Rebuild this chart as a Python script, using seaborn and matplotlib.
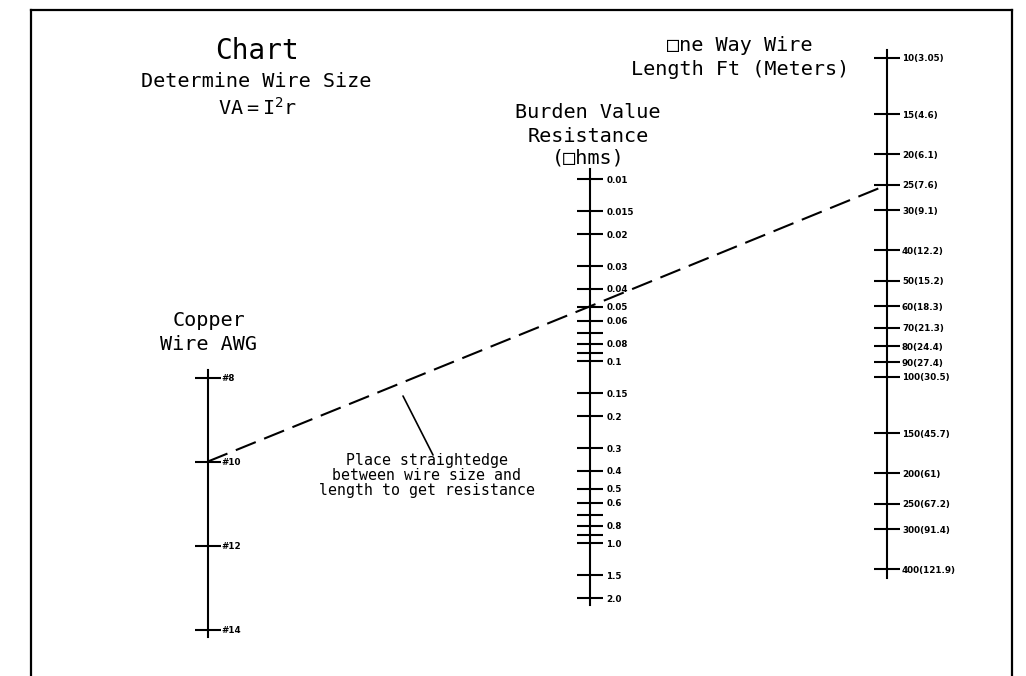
import matplotlib
matplotlib.use("Agg")
import matplotlib.pyplot as plt
import numpy as np
import pandas as pd
import seaborn as sns
from matplotlib.ticker import NullLocator

# ---- scale values -------------------------------------------------------
awg_sizes = [8, 10, 12, 14]
awg_labels = ["#8", "#10", "#12", "#14"]

resistance_ohms = [0.01, 0.015, 0.02, 0.03, 0.04, 0.05, 0.06, 0.07, 0.08, 0.09,
                   0.1, 0.15, 0.2, 0.3, 0.4, 0.5, 0.6, 0.7, 0.8, 0.9,
                   1.0, 1.5, 2.0]
resistance_labels = ["0.01", "0.015", "0.02", "0.03", "0.04", "0.05", "0.06", "", "0.08", "",
                     "0.1", "0.15", "0.2", "0.3", "0.4", "0.5", "0.6", "", "0.8", "",
                     "1.0", "1.5", "2.0"]

length_ft = [10, 15, 20, 25, 30, 40, 50, 60, 70, 80, 90, 100, 150, 200, 250, 300, 400]
length_m = ["3.05", "4.6", "6.1", "7.6", "9.1", "12.2", "15.2", "18.3", "21.3", "24.4",
            "27.4", "30.5", "45.7", "61", "67.2", "91.4", "121.9"]

# worked example: #10 wire, 25 ft one way -> 0.05 ohm burden
example_awg = 10
example_resistance = 0.05
example_length_ft = 25

# ---- style --------------------------------------------------------------
sns.set_theme(style="white")
plt.rcParams["font.family"] = ["DejaVu Sans"]
plt.rcParams["lines.scale_dashes"] = False

W, H = 1026, 676
fig = plt.figure(figsize=(W / 100, H / 100), dpi=100)
fig.patch.set_facecolor("white")

INK = "black"
LW = 1.5
MONO = ["DejaVu Sans Mono", "DejaVu Sans"]


def px_rect(left, top, width, height):
    return [left / W, 1 - (top + height) / H, width / W, height / H]


# drawing sheet: border on three sides, data units are pixels
sheet = fig.add_axes([31 / W, 0, (1012 - 31) / W, (H - 10) / H])
sheet.set_xlim(31, 1012)
sheet.set_ylim(H, 10)
sheet.set_xticks([])
sheet.set_yticks([])
for side in ("left", "top", "right"):
    sheet.spines[side].set_color(INK)
    sheet.spines[side].set_linewidth(1.6)
sheet.spines["bottom"].set_visible(False)


def make_scale(x_px, top_px, bottom_px, yscale, lim, ticks, labels, pad):
    ax = fig.add_axes(px_rect(x_px - 20, top_px, 20, bottom_px - top_px))
    ax.set_yscale(yscale)
    ax.set_ylim(*lim)
    ax.set_xlim(0, 1)
    ax.patch.set_visible(False)
    for side in ("left", "top", "bottom"):
        ax.spines[side].set_visible(False)
    ax.spines["right"].set_color(INK)
    ax.spines["right"].set_linewidth(LW)
    ax.set_xticks([])
    ax.yaxis.tick_right()
    ax.set_yticks(ticks, labels)
    ax.yaxis.set_minor_locator(NullLocator())
    ax.tick_params(axis="y", which="major", direction="inout", length=18.5,
                   width=LW, color=INK, pad=pad, labelsize=6.3, labelcolor=INK)
    for lab in ax.get_yticklabels():
        lab.set_fontweight("bold")
    return ax


ax_awg = make_scale(207.5, 370, 637, "linear", (14.177, 7.816),
                    awg_sizes, awg_labels, 1.0)
ax_res = make_scale(589.5, 169, 605, "log", (2.183, 0.008776),
                    resistance_ohms, resistance_labels, 3.0)
ax_len = make_scale(887, 50, 578, "log", (426.7, 9.439),
                    length_ft, [f"{f}({m})" for f, m in zip(length_ft, length_m)], 1.5)

# ---- straightedge through the worked example ---------------------------
to_sheet = sheet.transData.inverted()
pts = [to_sheet.transform(ax.transData.transform((1, v)))
       for ax, v in ((ax_awg, example_awg), (ax_res, example_resistance),
                     (ax_len, example_length_ft))]
edge = pd.DataFrame(pts, columns=["x", "y"])
sns.lineplot(data=edge, x="x", y="y", ax=sheet, color=INK, linewidth=1.5,
             linestyle=(0, (15.5, 6.5)), sort=False, estimator=None)
sheet.set_xlabel("")
sheet.set_ylabel("")

# leader from the note to the straightedge
sheet.plot([403, 433], [396, 455], color=INK, linewidth=1.2)

# ---- titles -------------------------------------------------------------
title_kw = dict(ha="center", va="baseline", color=INK, family=MONO)
TS = 14.5
sheet.text(257, 59, "Chart", fontsize=20, **title_kw)
sheet.text(256, 87, "Determine Wire Size", fontsize=TS, **title_kw)
sheet.text(257, 115, r"$\mathregular{VA{=}I^{2}r}$", fontsize=TS, **title_kw)

sheet.text(740, 51, "\u25a1ne Way Wire", fontsize=TS, **title_kw)
sheet.text(740, 75, "Length Ft (Meters)", fontsize=TS, **title_kw)

sheet.text(588, 118, "Burden Value", fontsize=TS, **title_kw)
sheet.text(588, 142, "Resistance", fontsize=TS, **title_kw)
sheet.text(588, 164, "(\u25a1hms)", fontsize=TS, **title_kw)

sheet.text(209, 326, "Copper", fontsize=TS, **title_kw)
sheet.text(209, 350, "Wire AWG", fontsize=TS, **title_kw)

# note under the straightedge, one text per line
note_lines = ["Place straightedge", "between wire size and", "length to get resistance"]
for i, line in enumerate(note_lines):
    sheet.text(427, 465 + 15 * i, line, fontsize=10.7, ha="center", va="baseline",
               color=INK, family=MONO)

fig.savefig("out.png", dpi=100, facecolor="white")
